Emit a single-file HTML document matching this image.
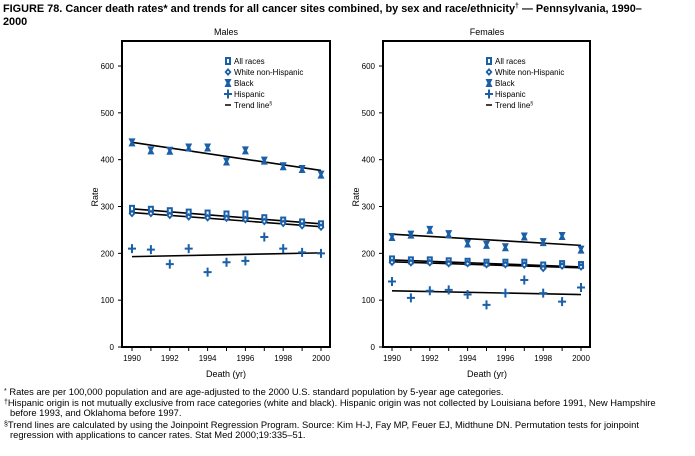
<!DOCTYPE html>
<html><head><meta charset="utf-8"><style>
body{margin:0;background:#fff;width:695px;height:451px;overflow:hidden;font-family:"Liberation Sans",Arial,sans-serif;}
svg text{font-family:"Liberation Sans",Arial,sans-serif;}
</style></head><body>
<svg id="s" width="695" height="451" xmlns="http://www.w3.org/2000/svg">
<text x="3" y="12" font-size="10.9" font-weight="bold">FIGURE 78. Cancer death rates* and trends for all cancer sites combined, by sex and race/ethnicity<tspan font-size="7" dy="-4">†</tspan><tspan dy="4"> — Pennsylvania, 1990–</tspan></text>
<text x="3" y="25" font-size="10.9" font-weight="bold">2000</text>
<text x="226" y="35" font-size="9" text-anchor="middle">Males</text>
<text x="487" y="35" font-size="9" text-anchor="middle">Females</text>
<text x="226" y="377" font-size="9" text-anchor="middle">Death (yr)</text>
<text x="487" y="377" font-size="9" text-anchor="middle">Death (yr)</text>
<text transform="translate(98,197) rotate(-90)" font-size="9" text-anchor="middle">Rate</text>
<text transform="translate(359,197) rotate(-90)" font-size="9" text-anchor="middle">Rate</text>
<g font-size="9.4">
<text x="4" y="395"><tspan font-size="7" dy="-2">*</tspan><tspan dy="2"> Rates are per 100,000 population and are age-adjusted to the 2000 U.S. standard population by 5-year age categories.</tspan></text>
<text x="4" y="406"><tspan font-size="7" dy="-2">†</tspan><tspan dy="2">Hispanic origin is not mutually exclusive from race categories (white and black). Hispanic origin was not collected by Louisiana before 1991, New Hampshire</tspan></text>
<text x="10" y="416">before 1993, and Oklahoma before 1997.</text>
<text x="4" y="428"><tspan font-size="7" dy="-2">§</tspan><tspan dy="2">Trend lines are calculated by using the Joinpoint Regression Program. Source: Kim H-J, Fay MP, Feuer EJ, Midthune DN. Permutation tests for joinpoint</tspan></text>
<text x="10" y="438">regression with applications to cancer rates. Stat Med 2000;19:335–51.</text>
</g>
</svg>
<script>
var s=document.getElementById('s'),ns='http://www.w3.org/2000/svg',B='#1a5fa8';
function el(t,a,txt){var e=document.createElementNS(ns,t);for(var k in a)e.setAttribute(k,a[k]);if(txt)e.textContent=txt;s.appendChild(e);return e;}
function Y(v){return 347-v*0.4683;}
function mk(type,x,y){
 if(type==0){el('rect',{x:x-3,y:y-4,width:6,height:8,fill:B});el('rect',{x:x-1,y:y-2,width:2,height:4,fill:'#fff'});}
 else if(type==1){el('path',{d:'M'+x+' '+(y-4)+'L'+(x+3.5)+' '+y+'L'+x+' '+(y+4)+'L'+(x-3.5)+' '+y+'Z',fill:B});el('circle',{cx:x,cy:y,r:1,fill:'#fff'});}
 else if(type==2){el('path',{d:'M'+(x-3.5)+' '+(y-4)+'h7l-2 4 2 4h-7l2-4z',fill:B});}
 else {el('path',{d:'M'+(x-4)+' '+y+'h8M'+x+' '+(y-4.5)+'v9',stroke:B,'stroke-width':2});}
}
function panel(x0,x1,xa,xb,data,trends,lx,ly){
 el('rect',{x:x0,y:41,width:x1-x0,height:306,fill:'none',stroke:'#000','stroke-width':2});
 [0,100,200,300,400,500,600].forEach(function(v){var y=Y(v);el('line',{x1:x0-4,x2:x0,y1:y,y2:y,stroke:'#000'});el('text',{x:x0-8,y:y+3,'font-size':8,'text-anchor':'end'},''+v);});
 for(var i=0;i<=10;i++){var x=xa+(xb-xa)*i/10;el('line',{x1:x,x2:x,y1:347,y2:351,stroke:'#000'});if(i%2==0)el('text',{x:x,y:361,'font-size':8,'text-anchor':'middle'},''+(1990+i));}
 trends.forEach(function(t){el('line',{x1:xa,x2:xb,y1:Y(t[0]),y2:Y(t[1]),stroke:'#000','stroke-width':1.6});});
 data.forEach(function(d,k){d.forEach(function(v,i){mk(k,xa+(xb-xa)*i/10,Y(v));});});
 var L=['All races','White non-Hispanic','Black','Hispanic'];
 L.forEach(function(n,i){mk(i,lx,ly+i*11);el('text',{x:lx+6,y:ly+i*11+3,'font-size':8},n);});
 el('line',{x1:lx-3,x2:lx+3,y1:ly+44,y2:ly+44,stroke:'#000','stroke-width':1.5});
 var t=el('text',{x:lx+6,y:ly+47,'font-size':8},'Trend line');var sp=document.createElementNS(ns,'tspan');sp.setAttribute('font-size','5');sp.setAttribute('dy','-3');sp.textContent='§';t.appendChild(sp);
}
panel(122,330,132,321,[
 [295,293,290,287,285,283,283,275,270,266,262],
 [285,285,281,278,276,275,272,268,264,259,256],
 [437,420,419,426,426,396,420,398,386,380,368],
 [210,208,177,210,160,181,184,235,210,202,200]],
 [[437,377],[295,263],[287,257],[193,201]],228,61);
panel(383,590,392,581,[
 [187,185,185,183,182,180,180,180,174,177,175],
 [181,180,180,178,178,176,176,175,168,173,171],
 [235,240,250,241,221,218,213,236,224,237,208],
 [140,105,120,122,112,90,115,143,115,97,127]],
 [[241,217],[186,171],[182,169],[120,112]],489,61);
</script>
</body></html>
